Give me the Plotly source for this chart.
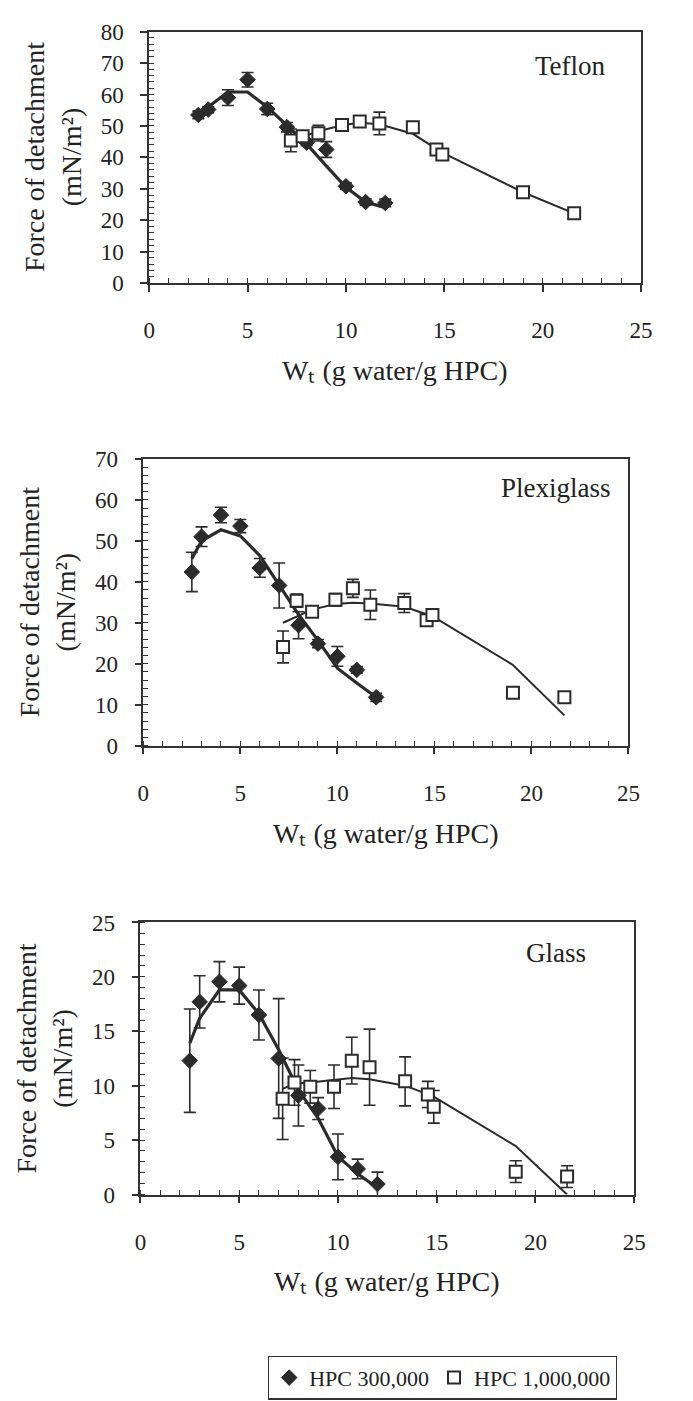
import plotly.graph_objects as go

W, H = 693, 1401
FONT = "Liberation Serif"
DARK = "#2b2b2b"

# ---------------- data ----------------
# Teflon
tef_d_x = [2.5, 3, 4, 5, 6, 7, 8, 9, 10, 11, 12]
tef_d_y = [53.5, 55.2, 59.0, 64.7, 55.4, 49.6, 44.7, 42.5, 30.8, 25.8, 25.5]
tef_d_e = [1.2, 1.0, 2.5, 2.3, 1.8, 1.5, 1.0, 2.5, 1.0, 1.0, 1.2]
tef_d_fit = [53.1, 56.0, 60.8, 60.8, 56.0, 50.3, 44.3, 37.3, 30.5, 25.8, 24.0]
tef_s_x = [7.2, 7.8, 8.6, 9.8, 10.7, 11.7, 13.4, 14.6, 14.9, 19.0, 21.6]
tef_s_y = [45.4, 46.7, 47.7, 50.3, 51.4, 50.8, 49.6, 42.5, 40.9, 28.9, 22.2]
tef_s_e = [3.6, 1.0, 2.5, 1.0, 1.0, 3.6, 1.5, 1.0, 1.0, 0.8, 0.8]
tef_fit_x = [7.8, 8.6, 9.8, 10.7, 11.7, 13.4, 14.9, 19.0, 21.6]
tef_fit_y = [46.5, 48.3, 50.2, 51.0, 50.5, 47.5, 41.5, 28.9, 22.2]

# Plexiglass
plx_d_x = [2.5, 3, 4, 5, 6, 7, 8, 9, 10, 11, 12]
plx_d_y = [42.4, 51.0, 56.3, 53.6, 43.4, 39.1, 29.4, 24.9, 21.8, 18.5, 11.8]
plx_d_e = [4.8, 2.4, 1.9, 1.6, 2.3, 5.5, 3.3, 1.0, 2.4, 0.8, 1.0]
plx_d_fit = [45.6, 50.0, 52.7, 51.2, 46.4, 39.2, 32.0, 25.7, 18.9, 15.3, 11.8]
plx_s_x = [7.2, 7.9, 8.7, 9.9, 10.8, 11.7, 13.45, 14.6, 14.9, 19.05, 21.7]
plx_s_y = [24.1, 35.4, 32.7, 35.6, 38.4, 34.4, 34.8, 30.6, 31.9, 12.9, 11.8]
plx_s_e = [3.9, 1.6, 1.2, 1.5, 2.2, 3.6, 2.3, 1.0, 1.0, 0.5, 0.5]
plx_fit_x = [7.2, 7.9, 8.7, 9.9, 10.8, 11.7, 13.45, 14.9, 19.05, 21.7]
plx_fit_y = [30.0, 31.5, 33.2, 34.6, 34.9, 34.7, 33.9, 31.6, 19.7, 7.4]

# Glass
gls_d_x = [2.5, 3, 4, 5, 6, 7, 8, 9, 10, 11, 12]
gls_d_y = [12.3, 17.7, 19.55, 19.2, 16.5, 12.5, 9.1, 7.9, 3.46, 2.35, 0.96]
gls_d_e = [4.75, 2.4, 1.85, 1.7, 2.3, 5.5, 2.8, 1.0, 2.1, 0.9, 1.1]
gls_d_fit = [13.9, 16.2, 18.8, 18.8, 16.6, 13.3, 9.6, 7.0, 3.5, 1.9, 0.6]
gls_s_x = [7.2, 7.8, 8.6, 9.8, 10.7, 11.6, 13.4, 14.55, 14.85, 19.0, 21.6]
gls_s_y = [8.8, 10.3, 9.9, 9.9, 12.3, 11.7, 10.4, 9.2, 8.06, 2.1, 1.65]
gls_s_e = [3.75, 2.1, 1.5, 2.0, 2.15, 3.5, 2.25, 1.2, 1.5, 1.0, 1.0]
gls_fit_x = [7.2, 7.8, 8.6, 9.8, 10.7, 11.6, 13.4, 14.85, 19.0, 21.6]
gls_fit_y = [9.7, 10.2, 10.3, 10.55, 10.7, 10.6, 10.0, 9.0, 4.45, 0.0]

x_ticks = [0, 5, 10, 15, 20, 25]
panel_names = ["Teflon", "Plexiglass", "Glass"]
y_ranges = [(0, 80), (0, 70), (0, 25)]
y_major = [10, 10, 5]
y_minor = [2, 2, 1]
legend_names = ["HPC 300,000", "HPC 1,000,000"]
x_title = "Wₜ (g water/g HPC)"
y_title = "Force of detachment<br>(mN/m²)"

# ---------------- layout geometry (pixels) ----------------
boxes = [  # left, right, top, bottom
    (147, 652, 20, 276),
    (141, 639, 455, 747),
    (138, 645, 927, 1204),
]
label_pos = [(580, 55), (565, 485), (565, 958)]


def px(x):
    return x / W


def py(y):
    return 1 - y / H


fig = go.Figure()

panels = [
    (tef_d_x, tef_d_y, tef_d_e, tef_d_fit, tef_s_x, tef_s_y, tef_s_e, tef_fit_x, tef_fit_y),
    (plx_d_x, plx_d_y, plx_d_e, plx_d_fit, plx_s_x, plx_s_y, plx_s_e, plx_fit_x, plx_fit_y),
    (gls_d_x, gls_d_y, gls_d_e, gls_d_fit, gls_s_x, gls_s_y, gls_s_e, gls_fit_x, gls_fit_y),
]

for i, (dx, dy, de, dfit, sx, sy, se, fx, fy) in enumerate(panels):
    xa = "x" if i == 0 else f"x{i+1}"
    ya = "y" if i == 0 else f"y{i+1}"
    # fit lines
    fig.add_trace(go.Scatter(x=dx, y=dfit, mode="lines", xaxis=xa, yaxis=ya,
                             line=dict(color=DARK, width=3.2), showlegend=False,
                             hoverinfo="skip"))
    fig.add_trace(go.Scatter(x=fx, y=fy, mode="lines", xaxis=xa, yaxis=ya,
                             line=dict(color=DARK, width=2), showlegend=False,
                             hoverinfo="skip"))
    # markers
    fig.add_trace(go.Scatter(
        x=dx, y=dy, mode="markers", xaxis=xa, yaxis=ya,
        name=legend_names[0], showlegend=(i == 0),
        marker=dict(symbol="diamond", size=12, color=DARK,
                    line=dict(color=DARK, width=1)),
        error_y=dict(type="data", array=de, visible=True, color=DARK,
                     thickness=1.6, width=6)))
    fig.add_trace(go.Scatter(
        x=sx, y=sy, mode="markers", xaxis=xa, yaxis=ya,
        name=legend_names[1], showlegend=(i == 0),
        marker=dict(symbol="square", size=12, color="white",
                    line=dict(color=DARK, width=2)),
        error_y=dict(type="data", array=se, visible=True, color=DARK,
                     thickness=1.6, width=6)))

axis_common = dict(
    showline=True, linecolor="#333", linewidth=1.5, mirror=True,
    ticks="outside", ticklen=7, tickwidth=1.5, tickcolor="#333",
    showgrid=False, zeroline=False,
    tickfont=dict(family=FONT, size=23, color="#222"),
)

layout = dict(
    width=W, height=H,
    margin=dict(l=0, r=0, t=0, b=0),
    paper_bgcolor="white", plot_bgcolor="white",
    font=dict(family=FONT, color="#222"),
    showlegend=True,
    legend=dict(orientation="h", x=px(269), y=py(1368), xanchor="left", yanchor="top",
                bordercolor="#333", borderwidth=1.2, bgcolor="white",
                font=dict(family=FONT, size=22, color="#222"),
                itemwidth=30, tracegroupgap=0, entrywidth=0),
)

annotations = []
for i, (l, r, t, b) in enumerate(boxes):
    sfx = "" if i == 0 else str(i + 1)
    layout["xaxis" + sfx] = dict(
        axis_common, domain=[px(l), px(r)], range=[0, 25],
        tickvals=x_ticks, anchor="y" + sfx, ticklabelstandoff=19,
        minor=dict(ticks="inside", ticklen=5, tickwidth=1, tickcolor="#333", dtick=1),
    )
    y0, y1 = y_ranges[i]
    layout["yaxis" + sfx] = dict(
        axis_common, domain=[py(b), py(t)], range=[y0, y1],
        dtick=y_major[i], tick0=0, anchor="x" + sfx, ticklabelstandoff=12,
        minor=dict(ticks="inside", ticklen=5, tickwidth=1, tickcolor="#333",
                   dtick=y_minor[i]),
    )
    # x title
    annotations.append(dict(
        text=x_title, xref="paper", yref="paper",
        x=px((l + r) / 2), y=py(b + 89), xanchor="center", yanchor="middle",
        showarrow=False, font=dict(family=FONT, size=28, color="#222")))
    # y title
    annotations.append(dict(
        text=y_title, xref="paper", yref="paper",
        x=px(l - 99), y=py((t + b) / 2), xanchor="center", yanchor="middle",
        textangle=-90, showarrow=False,
        font=dict(family=FONT, size=28, color="#222")))
    # panel label
    lx, ly = label_pos[i]
    annotations.append(dict(
        text=panel_names[i], xref="paper", yref="paper",
        x=px(lx), y=py(ly), xanchor="center", yanchor="middle",
        showarrow=False, font=dict(family=FONT, size=27, color="#222")))

layout["annotations"] = annotations
fig.update_layout(**layout)

fig.write_html("out.html")
